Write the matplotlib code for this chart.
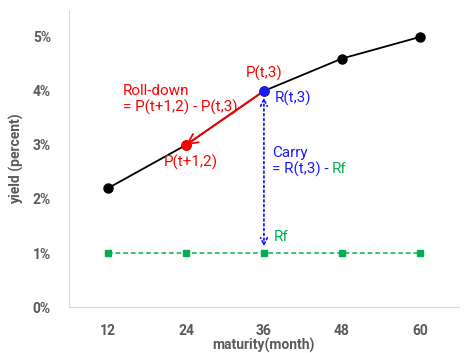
import matplotlib.pyplot as plt

maturity = [12, 24, 36, 48, 60]
yield_pct = [2.2, 3.0, 4.0, 4.6, 5.0]
rf_pct = [1.0, 1.0, 1.0, 1.0, 1.0]
y_ticks = [0, 1, 2, 3, 4, 5]
y_tick_labels = ['0%', '1%', '2%', '3%', '4%', '5%']

RED = '#ff0000'
BLUE = '#1a1aff'
GREEN = '#00b050'
GRAY = '#595959'

plt.rcParams['font.family'] = ['Roboto', 'DejaVu Sans']


def main():
    fig = plt.figure(figsize=(4.74, 3.53), dpi=100)
    ax = fig.add_axes([0.1456, 0.1303, 0.8224, 0.8414])

    ax.plot(maturity, yield_pct, color='black', lw=1.3, marker='o', ms=6.5, zorder=3)
    ax.plot(maturity, rf_pct, color=GREEN, lw=1.1, ls=(0, (3, 2)), marker='s', ms=4.5, zorder=3)

    # highlighted points
    ax.plot(maturity[1], yield_pct[1], 'o', color=RED, ms=6.5, zorder=4)
    ax.plot(maturity[2], yield_pct[2], 'o', color=BLUE, ms=6.5, zorder=5)

    # roll-down arrow
    ax.annotate('', xy=(maturity[1], yield_pct[1]), xytext=(maturity[2], yield_pct[2]),
                arrowprops=dict(arrowstyle='->', color=RED, lw=1.3,
                                shrinkA=0, shrinkB=0, mutation_scale=18), zorder=4.5)
    # carry arrow
    ax.annotate('', xy=(36, 1.12), xytext=(36, 3.88),
                arrowprops=dict(arrowstyle='<->', color=BLUE, lw=1.3, ls=':',
                                shrinkA=0, shrinkB=0, mutation_scale=12), zorder=4)

    fs = 11
    ax.text(36, 4.33, 'P(t,3)', color=RED, fontsize=fs, ha='center', va='center')
    ax.text(37.7, 3.87, 'R(t,3)', color=BLUE, fontsize=fs, ha='left', va='center')
    ax.text(14.3, 4.0, 'Roll-down', color=RED, fontsize=fs, ha='left', va='center')
    ax.text(14.3, 3.7, '= P(t+1,2) - P(t,3)', color=RED, fontsize=fs, ha='left', va='center')
    ax.text(24.8, 2.67, 'P(t+1,2)', color=RED, fontsize=fs, ha='center', va='center')
    ax.text(37.2, 2.85, 'Carry', color=BLUE, fontsize=fs, ha='left', va='center')
    t = ax.text(37.2, 2.55, '= R(t,3) - ', color=BLUE, fontsize=fs, ha='left', va='center')
    ax.annotate('Rf', xy=(1, 0.5), xycoords=t, color=GREEN, fontsize=fs,
                ha='left', va='center')
    ax.text(37.5, 1.3, 'Rf', color=GREEN, fontsize=fs, ha='left', va='center')

    ax.set_xlim(6, 66)
    ax.set_ylim(0, 5.5)
    ax.set_xticks(maturity)
    ax.set_yticks(y_ticks)
    ax.set_yticklabels(y_tick_labels)
    ax.tick_params(length=0, labelsize=10, labelcolor=GRAY)
    ax.tick_params(axis='x', pad=12)
    ax.tick_params(axis='y', pad=13)
    for lab in ax.get_xticklabels() + ax.get_yticklabels():
        lab.set_fontweight('bold')

    for side in ['top', 'right']:
        ax.spines[side].set_visible(False)
    for side in ['left', 'bottom']:
        ax.spines[side].set_color('#d9d9d9')

    ax.set_xlabel('maturity(month)', fontsize=10, fontweight='bold', color=GRAY, labelpad=0)
    ax.set_ylabel('yield (percent)', fontsize=10, fontweight='bold', color=GRAY, labelpad=6)

    fig.savefig('out.png', dpi=100)


if __name__ == "__main__":
    main()
